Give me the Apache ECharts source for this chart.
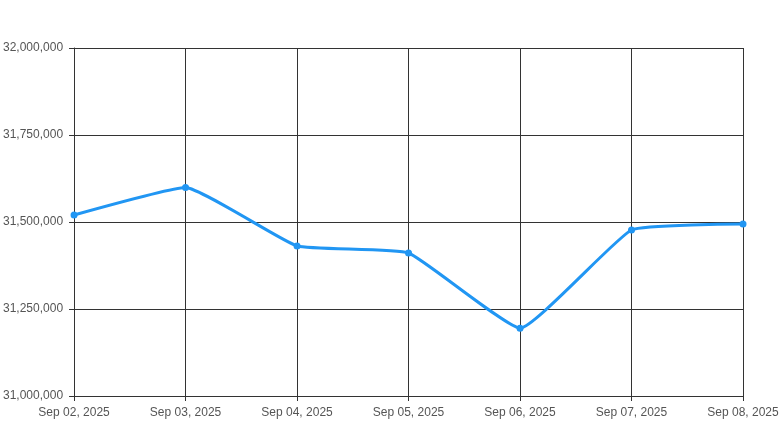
<!DOCTYPE html>
<html><head><meta charset="utf-8">
<script src="https://cdn.jsdelivr.net/npm/echarts@6/dist/echarts.min.js"></script>
<style>html,body{margin:0;padding:0;background:#fff}#c{width:782px;height:425px}</style>
</head><body><div id="c"></div>
<script>
const categories = ['Sep 02, 2025','Sep 03, 2025','Sep 04, 2025','Sep 05, 2025','Sep 06, 2025','Sep 07, 2025','Sep 08, 2025'];
const values = [31520000, 31599000, 31431000, 31411000, 31195000, 31477000, 31494000];
const yMin = 31000000, yMax = 32000000, yInterval = 250000;

const chart = echarts.init(document.getElementById('c'), null, {renderer:'canvas'});
const lineCol = '#333';
chart.setOption({
  animation:false,
  grid:{left:74,right:39,top:48,bottom:29,containLabel:false},
  xAxis:{type:'category',data:categories,boundaryGap:false,
    axisLine:{show:true,lineStyle:{color:lineCol,width:1}},
    axisTick:{show:true,length:5,lineStyle:{color:lineCol}},
    axisLabel:{color:'#555',fontSize:12,fontFamily:'Liberation Sans, Arial, sans-serif',margin:11,showMaxLabel:true,showMinLabel:true,interval:0},
    splitLine:{show:true,lineStyle:{color:lineCol,width:1}}},
  yAxis:{type:'value',min:yMin,max:yMax,interval:yInterval,
    axisLine:{show:true,lineStyle:{color:lineCol,width:1}},
    axisTick:{show:true,length:5,lineStyle:{color:lineCol}},
    axisLabel:{color:'#555',fontSize:12,fontFamily:'Liberation Sans, Arial, sans-serif',margin:11,
      formatter:v=>v.toLocaleString('en-US')},
    splitLine:{show:true,lineStyle:{color:lineCol,width:1}}},
  series:[{type:'line',data:values,smooth:0.12,symbol:'circle',symbolSize:7,
    lineStyle:{color:'#2196F3',width:3},itemStyle:{color:'#2196F3'}}]
});
</script></body></html>
